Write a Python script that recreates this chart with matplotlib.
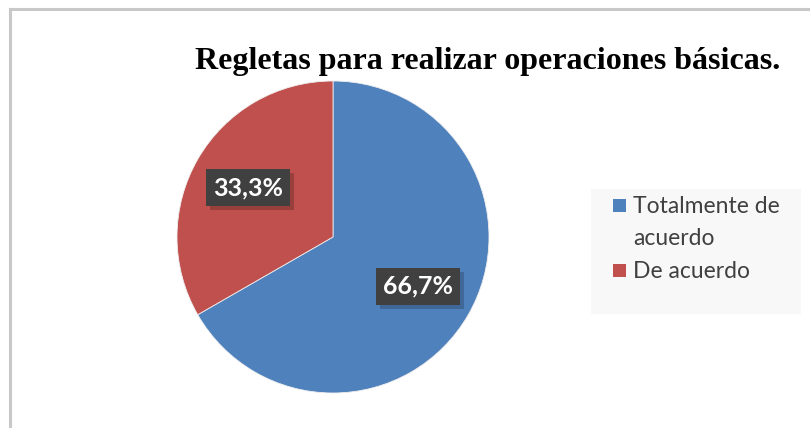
import matplotlib.pyplot as plt
from matplotlib.patches import Rectangle
from matplotlib.lines import Line2D
import matplotlib.patheffects as pe

# datos
categorias = ['Totalmente de\nacuerdo', 'De acuerdo']
valores = [66.7, 33.3]
etiquetas = ['66,7%', '33,3%']
colores = ['#4F81BD', '#C0504D']

W, H = 810, 428
fig = plt.figure(figsize=(W / 100, H / 100), dpi=100)

# marco del grafico
fig.add_artist(Line2D([9.5 / W, 9.5 / W], [0, 1 - 8.5 / H], color='#c8c8c8', lw=2.2))
fig.add_artist(Line2D([9.5 / W, 1], [1 - 8.5 / H, 1 - 8.5 / H], color='#c8c8c8', lw=2.2))

# pastel: centro (333, 237), radio 156 px
cx, cy, r = 333, 237, 156
ax = fig.add_axes([(cx - r) / W, 1 - (cy + r) / H, 2 * r / W, 2 * r / H])
wedges, texts = ax.pie(valores, colors=colores, startangle=90, counterclock=False,
                       labels=etiquetas, labeldistance=0.63,
                       wedgeprops=dict(linewidth=0.6, edgecolor='#eeeeee'))
ax.set_xlim(-1, 1)
ax.set_ylim(-1, 1)
ax.set_aspect('auto')

for t in texts:
    t.set_fontfamily(['Lato', 'DejaVu Sans'])
    t.set_fontsize(18)
    t.set_fontweight('bold')
    t.set_color('white')
    t.set_ha('center')
    t.set_va('center')
    t.set_bbox(dict(boxstyle='square,pad=0.28', facecolor='#404040', edgecolor='none'))
    t.get_bbox_patch().set_path_effects([
        pe.SimplePatchShadow(offset=(3, -3), shadow_rgbFace='#000000', alpha=0.2),
        pe.Normal()])

# titulo
fig.text(488 / W, 1 - 62 / H, 'Regletas para realizar operaciones básicas.',
         ha='center', va='center', fontsize=23, fontweight='bold',
         family=['Liberation Serif', 'DejaVu Serif'])

# leyenda (manual, el cuadro alineado con la primera linea)
fig.add_artist(Rectangle((591 / W, 1 - 314 / H), 210 / W, 125 / H,
                         transform=fig.transFigure, facecolor='#f8f8f8', edgecolor='none'))
y_items = [205, 270]
for cat, col, yy in zip(categorias, colores, y_items):
    fig.add_artist(Rectangle((613 / W, 1 - (yy + 6.5) / H), 13 / W, 13 / H,
                             transform=fig.transFigure, facecolor=col, edgecolor='none'))
    fig.text(633 / W, 1 - (yy - 9) / H, cat, ha='left', va='top', fontsize=16.5,
             color='#404040', linespacing=1.65, family=['Lato', 'DejaVu Sans'])

fig.savefig('out.png', dpi=100)
